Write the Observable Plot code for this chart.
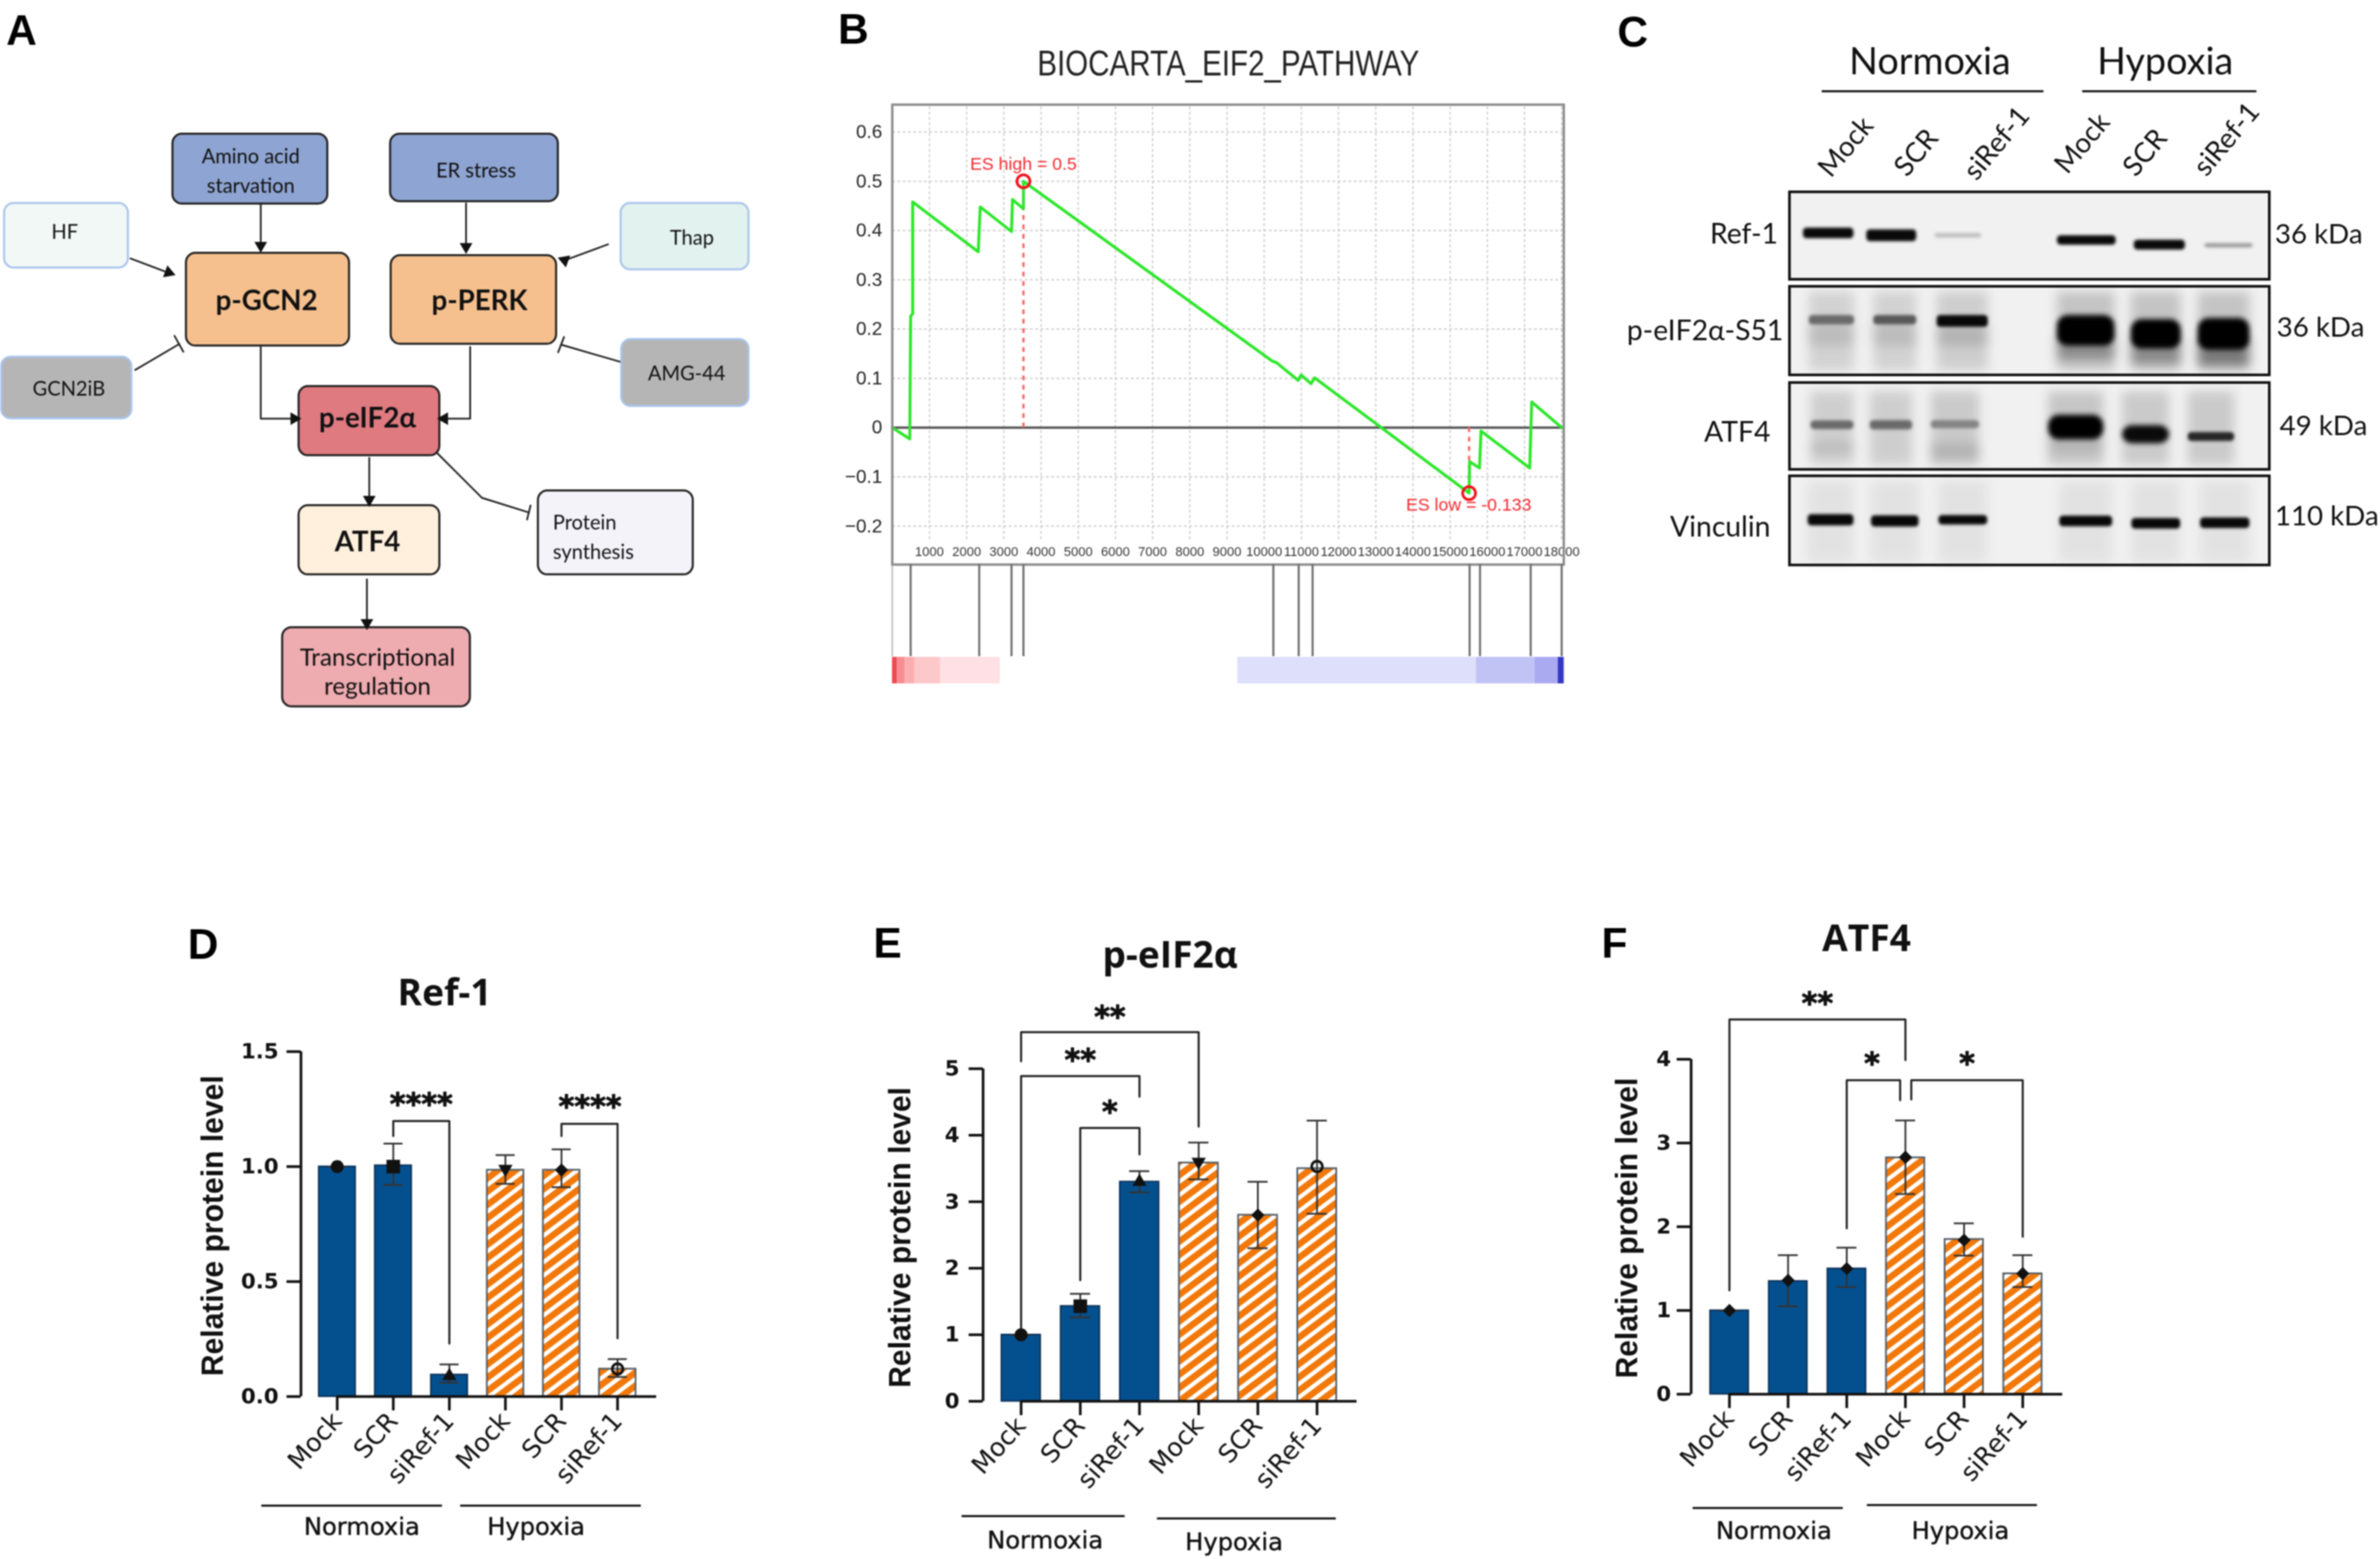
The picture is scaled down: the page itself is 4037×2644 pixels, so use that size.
<!DOCTYPE html>
<html><head><meta charset="utf-8">
<script src="https://cdn.jsdelivr.net/npm/d3@7"></script>
<script src="https://cdn.jsdelivr.net/npm/@observablehq/plot@0.6"></script>
<style>
html,body{margin:0;padding:0;background:#fff;}
#page{position:relative;width:4037px;height:2644px;overflow:hidden;}
#page svg{position:absolute;left:0;top:0;background:transparent;max-width:none;filter:blur(1.3px);}
</style></head><body><div id="page"></div>
<script>
const PW=4037, PH=2644;
const LAT="Lato", SANS="Liberation Sans", DJ="DejaVu Sans", OS="Open Sans";

// ---------- Panel D/E/F values ----------
const treatments=["Mock","SCR","siRef-1","Mock","SCR","siRef-1"];
const ref1Mean=[1.0,1.005,0.095,0.985,0.985,0.12];
const ref1Hi=[1.0,1.10,0.14,1.05,1.075,0.163];
const ref1Lo=[1.0,0.92,0.06,0.925,0.91,0.085];
const ref1Pt=[1.0,1.0,0.09,0.99,0.985,0.12];
const eif2Mean=[1.0,1.43,3.30,3.585,2.80,3.50];
const eif2Hi=[1.0,1.615,3.46,3.89,3.30,4.22];
const eif2Lo=[1.0,1.26,3.14,3.335,2.30,2.82];
const eif2Pt=[1.0,1.43,3.3,3.6,2.8,3.53];
const atf4Mean=[1.0,1.35,1.50,2.825,1.85,1.44];
const atf4Hi=[1.0,1.66,1.75,3.27,2.04,1.66];
const atf4Lo=[1.0,1.05,1.28,2.39,1.655,1.28];
const atf4Pt=[1.0,1.36,1.5,2.83,1.84,1.44];

// ---------- Panel B values ----------
const esX=[0,470,494,548,548,2311,2365,3206,3233,3527,3527,10220,10327,10915,10995,11262,11356,15510,15524,15790,15830,17140,17194,18000];
const esY=[0,-0.023,0.226,0.231,0.458,0.357,0.448,0.398,0.463,0.444,0.5,0.135,0.132,0.096,0.107,0.089,0.101,-0.133,-0.069,-0.082,-0.007,-0.082,0.052,0];
const hits=[494,2338,3206,3527,10247,10928,11302,15524,15804,17167,18000];
const xTicksB=d3.range(1000,18001,1000);
const yTicksB=[-0.2,-0.1,0,0.1,0.2,0.3,0.4,0.5,0.6];
const rankEdges=[0,134,334,601,1296,2899,9285,15698,17274,17902,18063];
const rankColors=["#f04a50","#f88c90","#fbaeb0","#fdc8ca","#ffe0e4","#ffffff","#dedffb","#c2c3f5","#a9aaf0","#3436c6"];

// ---------- Panel C text ----------
const laneNames=["Mock","SCR","siRef-1","Mock","SCR","siRef-1"];
const blotRows=["Ref-1","p-eIF2α-S51","ATF4","Vinculin"];
const blotSizes=["36 kDa","36 kDa","49 kDa","110 kDa"];

const mk=o=>{const s=Plot.plot({width:PW,height:PH,...o});document.getElementById("page").appendChild(s);return s;};
const txt=(data,font,size,weight,extra={})=>Plot.text(data,{x:"x",y:"y",text:"t",fontFamily:font,fontSize:size,fontWeight:weight,fill:"#111",...extra});

// layout adjustment per panel
const S=0.995;
const adj=(arr,ox,oy)=>arr.map(d=>{const o={...d};
 for(const k of ["x","x1","x2"]) if(o[k]!=null) o[k]=ox+(o[k]-ox)*S;
 for(const k of ["y","y1","y2"]) if(o[k]!=null) o[k]=oy+(o[k]-oy)*S;
 return o;});

// ---------- Base layer: layout ----------
const nodes=adj([
 [294,228,558,347,"#8ea4d2","#222"],[665,228,951,343,"#8ea4d2","#222"],
 [7,346,218,456,"#f2f8f6","#a9c5ec"],[1058,346,1276,459,"#e2f2ee","#a9c5ec"],
 [317,431,595,589,"#f6c08e","#222"],[666,435,948,586,"#f6c08e","#222"],
 [2,608,224,713,"#b5b5b5","#a9c5ec"],[1059,578,1276,692,"#b5b5b5","#a9c5ec"],
 [509,658,749,776,"#df7a80","#222"],[509,861,749,979,"#fff0dd","#222"],
 [917,836,1181,979,"#f5f3fa","#222"],[481,1069,801,1204,"#eeabb0","#222"]
].map(([x1,y1,x2,y2,f,s])=>({x1,y1,x2,y2,f,s})),0,0);
const edges=adj([
 [[444,347],[444,412]],[[794,346],[794,414]],[[222,440],[280,462]],[[1036,416],[968,441]],
 [[444,591],[444,713],[495,713]],[[801,591],[801,713],[763,713]],[[629,780],[629,845]],[[625,987],[625,1055]],
 [[230,630],[305,586]],[[1056,616],[956,587]],[[745,772],[821,848],[901,873]],
 [[297,572],[312,599]],[[951,600],[961,574]],[[898,885],[904,861]]
].flatMap((pts,k)=>pts.map(([x,y])=>({x,y,k}))),0,0);
const heads=adj([[444,418,180],[794,420,180],[287,464,110],[962,443,-70],[501,713,90],[757,713,-90],[629,851,180],[625,1061,180]].map(([x,y,a])=>({x,y,a})),0,0);
const nodeText=adj([
 {t:"Amino acid",x:427,y:267},{t:"starvation",x:427,y:317},{t:"ER stress",x:811,y:291},{t:"HF",x:110,y:396},
 {t:"Thap",x:1179,y:406},{t:"GCN2iB",x:117,y:663},{t:"AMG-44",x:1170,y:637}],0,0);
const nodeTextBold=adj([{t:"p-GCN2",x:454,y:513},{t:"p-PERK",x:817,y:513},{t:"p-eIF2α",x:626,y:713},{t:"ATF4",x:626,y:924}],0,0);
const nodeTextLeft=adj([{t:"Protein",x:942,y:891},{t:"synthesis",x:942,y:941}],0,0);
const nodeTextBig=adj([{t:"Transcriptional",x:643,y:1121},{t:"regulation",x:643,y:1170}],0,0);
const letters=[{t:"A",x:10,y:52},{t:"B",x:1421,y:50},{t:"C",x:2743,y:55},{t:"D",x:318,y:1602},{t:"E",x:1481,y:1600},{t:"F",x:2716,y:1600}];

// blot geometry
const cAdj=a=>adj(a,2700,0);
const blotBoxes=cAdj([[327,476],[488,639],[652,800],[811,963]].map(([y1,y2])=>({x1:3037,x2:3855,y1,y2})));
const smears=cAdj([
 [3070,3147,497,631,"#d2d2d2"],[3180,3253,497,631,"#d2d2d2"],[3288,3375,497,631,"#cecece"],
 [3493,3591,497,631,"#c4c4c4"],[3619,3704,497,631,"#c4c4c4"],[3733,3821,497,631,"#c4c4c4"],
 [3073,3146,667,792,"#cecece"],[3174,3246,667,792,"#cecece"],[3278,3360,667,792,"#cacaca"],
 [3478,3572,667,792,"#c6c6c6"],[3604,3684,667,792,"#cacaca"],[3716,3795,667,792,"#cacaca"],
 [3068,3146,820,958,"#e2e2e2"],[3176,3257,820,958,"#e2e2e2"],[3291,3374,820,958,"#e2e2e2"],
 [3497,3587,820,958,"#e2e2e2"],[3620,3703,820,958,"#e2e2e2"],[3737,3821,820,958,"#e2e2e2"],
 [3493,3591,570,612,"#8a8a8a"],[3619,3704,575,620,"#8a8a8a"],[3733,3821,575,624,"#7a7a7a"],
 [3070,3147,552,590,"#bcbcbc"],[3180,3253,552,590,"#bcbcbc"],[3288,3375,555,590,"#b4b4b4"],
 [3478,3572,745,770,"#b4b4b4"],[3073,3146,755,770,"#b8b8b8"],[3278,3360,755,785,"#b4b4b4"]
].map(([x1,x2,y1,y2,f])=>({x1,x2,y1,y2,f})));
const toBand=([x1,x2,c,h,f])=>({x1,x2,y1:c-h/2,y2:c+h/2,f});
const bands=cAdj([
 [3060,3146,397,18,"#0a0a0a"],[3168,3253,401,20,"#0a0a0a"],[3284,3364,401,8,"#c0c0c0"],
 [3493,3593,409,16,"#0a0a0a"],[3624,3711,417,17,"#0a0a0a"],[3744,3827,418,7,"#989898"],
 [3070,3147,545,16,"#6a6a6a"],[3180,3253,545,16,"#585858"],[3288,3375,547,20,"#080808"],
 [3073,3146,724,15,"#6a6a6a"],[3174,3246,724,16,"#6a6a6a"],[3278,3360,723,14,"#848484"],
 [3716,3795,744,15,"#262626"],
 [3068,3146,886,19,"#080808"],[3176,3257,888,19,"#080808"],[3291,3374,886,16,"#080808"],
 [3497,3587,888,18,"#080808"],[3620,3703,892,18,"#080808"],[3737,3821,891,18,"#080808"]
].map(toBand));
const heavyBands=cAdj([
 [3493,3591,563,52,"#000"],[3619,3704,569,50,"#000"],[3733,3821,569,54,"#000"],
 [3478,3572,728,42,"#000"],[3604,3684,740,31,"#0a0a0a"]
].map(toBand));
const rowLabelPos=[[3017,399],[3026,564],[3004,737],[3004,899]];
const sizeLabelPos=[[3864,399],[3867,558],[3872,726],[3864,880]];
const lanePos=[[3133,250],[3253,260],[3390,244],[3536,244],[3643,260],[3782,237]];

const groupLines=[
 ...cAdj([{x1:3092,x2:3470,y:155},{x1:3536,x2:3833,y:155}]),
 ...adj([{x1:444,x2:752,y:2558},{x1:783,x2:1091,y:2558}],280,1540),
 ...adj([{x1:1632,x2:1910,y:2576},{x1:1965,x2:2270,y:2580}],1440,1540),
 ...adj([{x1:2872,x2:3128,y:2562},{x1:3169,x2:3459,y:2557}],2680,1540)
];
const groupText=[
 ...adj([{t:"Normoxia",x:615,y:2595},{t:"Hypoxia",x:912,y:2595}],280,1540),
 ...adj([{t:"Normoxia",x:1774,y:2618},{t:"Hypoxia",x:2096,y:2621}],1440,1540),
 ...adj([{t:"Normoxia",x:3010,y:2602},{t:"Hypoxia",x:3328,y:2602}],2680,1540)];
const panelTitles=[...adj([{t:"Ref-1",x:756,y:1685}],280,1540),...adj([{t:"p-eIF2α",x:1987,y:1621}],1440,1540),...adj([{t:"ATF4",x:3168,y:1593}],2680,1540)];
const yLabels=[...adj([{t:"Relative protein level",x:362,y:2081}],280,1540),...adj([{t:"Relative protein level",x:1528,y:2101}],1440,1540),...adj([{t:"Relative protein level",x:2761,y:2085}],2680,1540)];

const defs=()=>{
 const s=d3.create("svg:g");
 const p=s.append("defs").append("pattern").attr("id","hatch").attr("patternUnits","userSpaceOnUse")
  .attr("width",18).attr("height",18).attr("patternTransform","rotate(-37)");
 p.append("rect").attr("width",18).attr("height",18).attr("fill","#ffffff");
 p.append("rect").attr("width",18).attr("height",11).attr("fill","#f2780a");
 return s.node();
};

const base=mk({margin:0,x:{domain:[0,PW],range:[0,PW],axis:null},y:{domain:[0,PH],range:[0,PH],axis:null},
 marks:[
  defs,
  Plot.rect(nodes,{x1:"x1",x2:"x2",y1:"y1",y2:"y2",fill:"f",stroke:"s",strokeWidth:3.5,rx:16}),
  Plot.line(edges,{x:"x",y:"y",z:"k",stroke:"#222",strokeWidth:3,curve:"linear"}),
  Plot.dot(heads,{x:"x",y:"y",rotate:"a",symbol:"triangle",r:8,fill:"#111",stroke:"none"}),
  txt(nodeText,LAT,34,400),
  txt(nodeTextBold,LAT,47,700),
  txt(nodeTextLeft,LAT,34,400,{textAnchor:"start"}),
  txt(nodeTextBig,LAT,41,400),
  txt(letters,SANS,72,700,{textAnchor:"start",fill:"#000"}),
  Plot.text([{t:"BIOCARTA_EIF2_PATHWAY",x:2083,y:108}],{x:"x",y:"y",text:"t",fontFamily:SANS,fontSize:62,fill:"#222"}),
  // panel C
  Plot.rect(blotBoxes,{x1:"x1",x2:"x2",y1:"y1",y2:"y2",fill:"#f1f1f1"}),
  Plot.rect(smears,{x1:"x1",x2:"x2",y1:"y1",y2:"y2",fill:"f",imageFilter:"blur(9px)"}),
  Plot.rect(bands,{x1:"x1",x2:"x2",y1:"y1",y2:"y2",fill:"f",rx:6,imageFilter:"blur(2.5px)"}),
  Plot.rect(heavyBands,{x1:"x1",x2:"x2",y1:"y1",y2:"y2",fill:"f",rx:18,imageFilter:"blur(4.5px)"}),
  Plot.rect(blotBoxes,{x1:"x1",x2:"x2",y1:"y1",y2:"y2",fill:"none",stroke:"#111",strokeWidth:4.5}),
  txt(cAdj([{t:"Normoxia",x:3276,y:106},{t:"Hypoxia",x:3677,y:106}]),LAT,64,400),
  txt(cAdj(laneNames.map((t,i)=>({t,x:lanePos[i][0],y:lanePos[i][1]}))),LAT,47,400,{rotate:-50}),
  txt(cAdj(blotRows.map((t,i)=>({t,x:rowLabelPos[i][0],y:rowLabelPos[i][1]}))),LAT,48,400,{textAnchor:"end"}),
  txt(cAdj(blotSizes.map((t,i)=>({t,x:sizeLabelPos[i][0],y:sizeLabelPos[i][1]}))),LAT,47,400,{textAnchor:"start"}),
  // group labels and titles
  Plot.ruleY(groupLines,{y:"y",x1:"x1",x2:"x2",stroke:"#111",strokeWidth:3.5}),
  txt(groupText,DJ,41,400,{stroke:"#222",strokeWidth:0.7}),
  txt(panelTitles,OS,63,700),
  txt(yLabels,SANS,51,700,{rotate:-90})
 ]});
// the reference title is condensed to this width
base.querySelectorAll("text").forEach(t=>{
 if(t.textContent==="BIOCARTA_EIF2_PATHWAY"){t.setAttribute("textLength","648");t.setAttribute("lengthAdjust","spacingAndGlyphs");}
});

// ---------- Panel B ----------
const bScale={marginLeft:1513,marginRight:PW-2652,x:{domain:[0,18056],axis:null}};
const esPts=esX.map((x,i)=>({x,y:esY[i]}));
mk({...bScale,marginTop:177,marginBottom:PH-957,y:{domain:[-0.278,0.6555]},
 marks:[
  Plot.ruleX(xTicksB,{y1:-0.227,y2:0.6555,stroke:"#c9c9c9",strokeWidth:2,strokeDasharray:"5 4"}),
  Plot.ruleY(yTicksB.filter(d=>d!==0),{stroke:"#c9c9c9",strokeWidth:2,strokeDasharray:"5 4"}),
  Plot.ruleY([0],{stroke:"#555",strokeWidth:4}),
  Plot.axisY({ticks:yTicksB,tickSize:0,tickPadding:17,label:null,fontFamily:SANS,fontSize:32,fill:"#222",tickFormat:d=>d===0?"0":d3.format(".1f")(d)}),
  Plot.text(xTicksB,{x:d=>d,y:-0.252,text:d=>String(d),fontFamily:SANS,fontSize:22,fill:"#333"}),
  Plot.ruleX([3527],{y1:0,y2:0.5,stroke:"#ff6a6a",strokeWidth:4,strokeDasharray:"8 8"}),
  Plot.ruleX([15510],{y1:0,y2:-0.133,stroke:"#ff6a6a",strokeWidth:4,strokeDasharray:"8 8"}),
  Plot.line(esPts,{x:"x",y:"y",stroke:"#2de62a",strokeWidth:5,curve:"linear"}),
  Plot.dot([{x:3527,y:0.5},{x:15510,y:-0.133}],{x:"x",y:"y",r:11,stroke:"#f0101a",strokeWidth:4.5}),
  Plot.text([{x:3527,y:0.535}],{x:"x",y:"y",text:()=>"ES high = 0.5",fill:"#f42a30",fontFamily:SANS,fontSize:30}),
  Plot.text([{x:15500,y:-0.157}],{x:"x",y:"y",text:()=>"ES low = -0.133",fill:"#f42a30",fontFamily:SANS,fontSize:30}),
  Plot.frame({stroke:"#8a8a8a",strokeWidth:4})
 ]});
mk({...bScale,marginTop:957,marginBottom:PH-1113,y:{axis:null,domain:[0,1]},
 marks:[
  Plot.ruleX([0],{stroke:"#aaa",strokeWidth:2}),
  Plot.ruleX(hits,{stroke:"#6e6e6e",strokeWidth:3.5})
 ]});
mk({...bScale,marginTop:1114,marginBottom:PH-1159,y:{axis:null,domain:[0,1]},
 marks:[
  Plot.rectY(rankColors.map((f,i)=>({f,a:rankEdges[i],b:rankEdges[i+1]})),{x1:"a",x2:"b",y1:0,y2:1,fill:"f"})
 ]});

// ---------- Panels D, E, F ----------
const markers=[
 {s:"circle",r:11,a:0},{s:"square",r:13,a:0},{s:"triangle",r:9,a:0},{s:"triangle",r:9,a:180},{s:"square",r:9,a:45},{s:"circle",r:9,a:0,open:true}
];
function barPanel(p){
 const {axisX,right,first,step,base,topPx,yMax,ticks,fmt,barW,mean,hi,lo,pt,brackets,stars,marks:mset,tickPad}=p;
 const rows=mean.map((m,i)=>({i,m,hi:hi[i],lo:lo[i],pt:pt[i],...mset[i]}));
 const filled=rows.filter(d=>!d.open), open=rows.filter(d=>d.open);
 const w=barW/step/2, cap=0.17;
 return mk({marginLeft:axisX,marginRight:PW-right,marginTop:topPx,marginBottom:PH-base,
  x:{domain:[(axisX-first)/step,(right-first)/step],axis:null},
  y:{domain:[0,yMax],axis:null},
  r:{type:"identity"},
  marks:[
   Plot.rect(rows.filter(d=>d.i<3),{x1:d=>d.i-w,x2:d=>d.i+w,y1:0,y2:"m",fill:"#04508f",stroke:"#0b2f55",strokeWidth:2.5}),
   Plot.rect(rows.filter(d=>d.i>=3),{x1:d=>d.i-w,x2:d=>d.i+w,y1:0,y2:"m",fill:"url(#hatch)",stroke:"#55606a",strokeWidth:3}),
   Plot.ruleX(rows,{x:"i",y1:"lo",y2:"hi",stroke:"#333",strokeWidth:3}),
   Plot.ruleY(rows,{y:"hi",x1:d=>d.i-cap,x2:d=>d.i+cap,stroke:"#333",strokeWidth:3}),
   Plot.ruleY(rows,{y:"lo",x1:d=>d.i-cap,x2:d=>d.i+cap,stroke:"#333",strokeWidth:3}),
   Plot.dot(filled,{x:"i",y:"pt",symbol:"s",r:"r",rotate:"a",fill:"#111",stroke:"none"}),
   Plot.dot(open,{x:"i",y:"pt",symbol:"s",r:"r",stroke:"#111",strokeWidth:4.5}),
   ...brackets.map(b=>Plot.line([[b[0],b[3]],[b[0],b[2]],[b[1],b[2]],[b[1],b[4]]],{x:d=>d[0],y:d=>d[1],stroke:"#222",strokeWidth:3.5,curve:"linear"})),
   Plot.text(stars,{x:d=>d[0],y:d=>d[1],text:d=>d[2],fontFamily:DJ,fontWeight:700,fontSize:51,dy:8,fill:"#111",stroke:"#111",strokeWidth:1.5}),
   Plot.ruleX([(axisX-first)/step],{y1:0,y2:yMax,stroke:"#111",strokeWidth:4.5}),
   Plot.ruleY([0],{x2:(right-first)/step,stroke:"#111",strokeWidth:4.5}),
   Plot.axisY({ticks,tickFormat:fmt,tickSize:24,tickPadding:tickPad,strokeWidth:4.5,stroke:"#111",label:null,fontFamily:DJ,fontWeight:700,fontSize:36,fill:"#111"}),
   Plot.axisX({ticks:d3.range(6),tickFormat:i=>treatments[i],tickSize:24,tickPadding:10,tickRotate:-48,strokeWidth:4.5,stroke:"#111",label:null,fontFamily:DJ,fontSize:43,fill:"#111",textAnchor:"end"})
  ]});
}
barPanel({axisX:510,right:1113,first:571.5,step:95.1,base:2368,topPx:1783,yMax:1.5,ticks:[0,0.5,1,1.5],fmt:d3.format(".1f"),barW:62,tickPad:14,
 mean:ref1Mean,hi:ref1Hi,lo:ref1Lo,pt:ref1Pt,marks:markers,
 brackets:[[1,2,1.198,1.133,0.23],[4,5,1.186,1.133,0.253]],
 stars:[[1.5,1.289,"****"],[4.51,1.278,"****"]]});
barPanel({axisX:1667,right:2301,first:1731.5,step:100.4,base:2376,topPx:1812,yMax:5,ticks:[0,1,2,3,4,5],fmt:d3.format("d"),barW:66,tickPad:16,
 mean:eif2Mean,hi:eif2Hi,lo:eif2Lo,pt:eif2Pt,marks:markers,
 brackets:[[0,3,5.55,5.11,4.13],[0,2,4.89,1.10,4.58],[1,2,4.11,1.82,3.71]],
 stars:[[1.5,5.84,"**"],[1.0,5.19,"**"],[1.5,4.41,"*"]]});
barPanel({axisX:2868,right:3498,first:2933,step:99.5,base:2364,topPx:1796,yMax:4,ticks:[0,1,2,3,4],fmt:d3.format("d"),barW:65,tickPad:10,
 mean:atf4Mean,hi:atf4Hi,lo:atf4Lo,pt:atf4Pt,marks:treatments.map(()=>({s:"square",r:9,a:45})),
 brackets:[[0,3,4.475,1.24,3.99],[2,2.91,3.75,1.98,3.51],[3.1,5,3.75,3.52,1.88]],
 stars:[[1.5,4.72,"**"],[2.43,4.0,"*"],[4.05,4.0,"*"]]});
</script></body></html>
